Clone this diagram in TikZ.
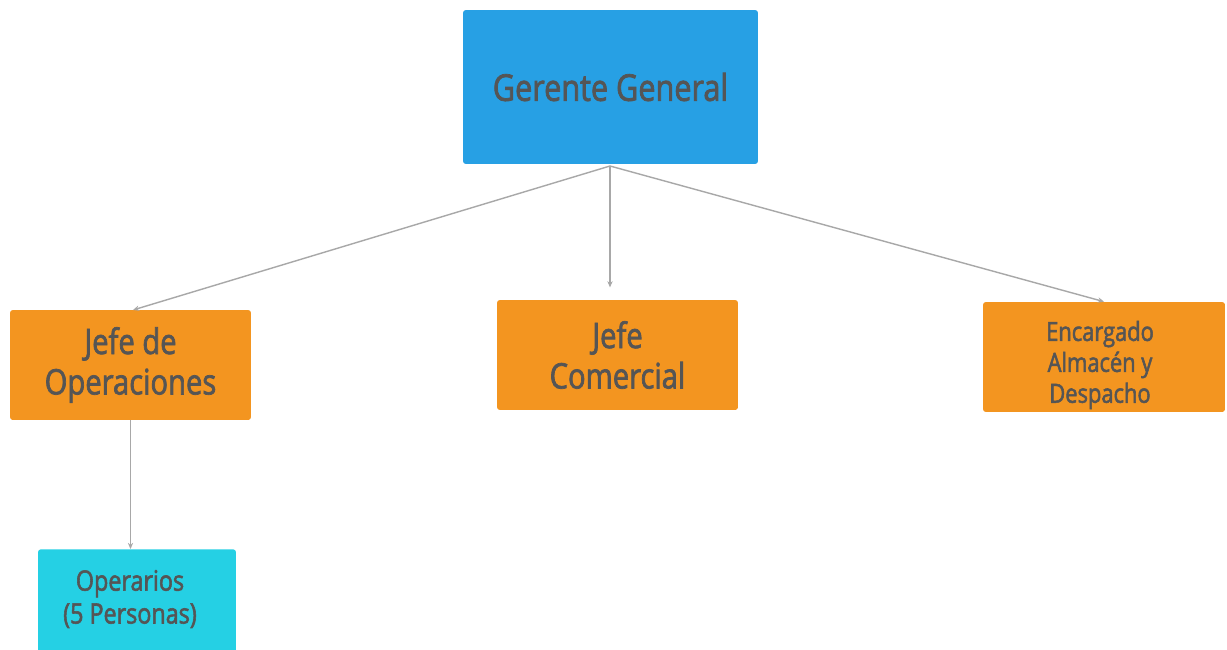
\documentclass[tikz,border=0pt]{standalone}
\usepackage{fontspec}
\setmainfont{Open Sans}[FakeStretch=0.83, FakeBold=2]
\usetikzlibrary{arrows.meta}

\definecolor{boxblue}{HTML}{27A0E4}
\definecolor{boxorange}{HTML}{F39520}
\definecolor{boxcyan}{HTML}{25D0E4}
\definecolor{txtgray}{HTML}{555555}
\definecolor{linegray}{HTML}{A8A8A8}

\tikzset{
  card/.style={rounded corners=1.6pt, text=txtgray, align=center, inner sep=0pt},
  link/.style={draw=linegray, line width=0.8pt, -{Stealth[length=3.5pt,width=3pt]}}
}

\begin{document}
\begin{tikzpicture}[x=0.02cm, y=-0.02cm]
  \clip (0,0) rectangle (1227,649);
  \fill[white] (0,0) rectangle (1227,649);

  % boxes, positions in pixels from the top left
  \node[card, fill=boxblue, minimum width=5.9cm, minimum height=3.08cm,
        font=\fontsize{21}{25}\selectfont] (gg) at (610.5,87) {Gerente General};
  \node[card, fill=boxorange, minimum width=4.82cm, minimum height=2.2cm,
        font=\fontsize{20}{23}\selectfont] (ops) at (130.5,365) {Jefe de\\Operaciones};
  \node[card, fill=boxorange, minimum width=4.82cm, minimum height=2.2cm,
        font=\fontsize{20}{23}\selectfont] (com) at (617.5,355) {Jefe\\Comercial};
  \node[card, fill=boxorange, minimum width=4.84cm, minimum height=2.2cm] (alm) at (1104,357) {};
  \node[text=txtgray, align=center, inner sep=0pt,
        font=\fontsize{15}{17.6}\selectfont] (almtxt) at (1100,365) {Encargado\\Almacén y\\Despacho};
  \node[card, fill=boxcyan, minimum width=3.96cm, minimum height=2.4cm, anchor=north] (opr) at (137,549) {};
  \node[text=txtgray, align=center, inner sep=0pt,
        font=\fontsize{16}{18.7}\selectfont] (oprtxt) at (130,599) {Operarios\\(5 Personas)};

  % connectors
  \coordinate (fork) at (610,166);
  \draw[link] (fork) -- (133,310);
  \draw[link, shorten >=7pt] (fork) -- (com.north -| fork);
  \draw[link] (fork) -- (alm.north);
  \draw[link] (ops.south) -- (opr.north -| ops.south);
\end{tikzpicture}
\end{document}
